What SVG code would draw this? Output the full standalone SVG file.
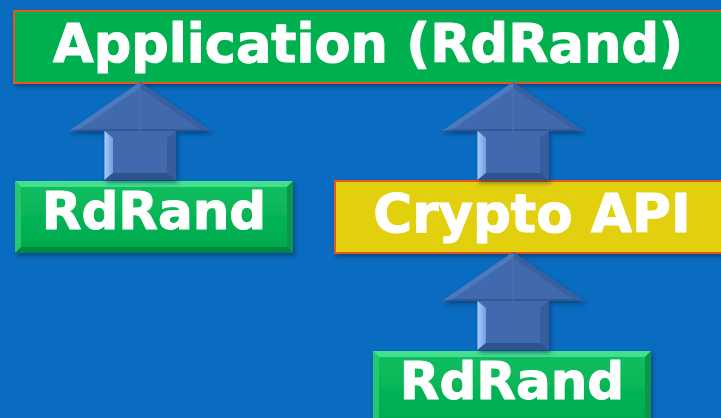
<svg xmlns="http://www.w3.org/2000/svg" xmlns:xlink="http://www.w3.org/1999/xlink" width="721" height="418" viewBox="0 0 721 418">
  <style>
    .label { font-family: "DejaVu Sans", Verdana, sans-serif; font-weight: bold; fill: #ffffff; stroke: #ffffff; stroke-width: 1.1; stroke-linejoin: round; text-anchor: middle; }
    .flat { stroke: #e8561c; stroke-width: 2; }
    .green { fill: #00b050; }
    .yellow { fill: #e2cf0e; }
  </style>
  <defs>
    <filter id="shadow" x="-10%" y="-10%" width="130%" height="140%">
      <feDropShadow dx="2" dy="3" stdDeviation="2" flood-color="#00204a" flood-opacity="0.45"/>
    </filter>
    <linearGradient id="bevelFace" x1="0" y1="0" x2="0" y2="1">
      <stop offset="0" stop-color="#0cc060"/>
      <stop offset="1" stop-color="#00a84c"/>
    </linearGradient>
    <linearGradient id="shaftLight" x1="0" y1="0" x2="1" y2="0">
      <stop offset="0" stop-color="#a6cdfb"/>
      <stop offset="1" stop-color="#6e9ee0"/>
    </linearGradient>
    <!-- block arrow pointing up; tip at origin -->
    <g id="upArrow">
      <polygon points="0,0 71,49 35.5,49 35.5,98 -35.5,98 -35.5,49 -71,49" fill="#4169ae"/>
      <!-- head facets -->
      <polygon points="0,0 -71,49 -60,47 0,6" fill="#4d79bf"/>
      <polygon points="0,0 71,49 60,47 0,6" fill="#37609f"/>
      <polygon points="-71,49 71,49 60,47 -60,47" fill="#2f548f" opacity="0.8"/>
      <line x1="0" y1="1" x2="0" y2="49" stroke="#4a74b8" stroke-width="1"/>
      <!-- shaft bevels -->
      <polygon points="-35.5,49 -27,56 -27,91 -35.5,98" fill="url(#shaftLight)"/>
      <polygon points="35.5,49 27,56 27,91 35.5,98" fill="#385c9c"/>
      <polygon points="-35.5,98 -27,91 27,91 35.5,98" fill="#2f528d"/>
    </g>
  </defs>

  <!-- backdrop -->
  <rect x="0" y="0" width="721" height="418" fill="#0a6cc0"/>

  <!-- application layer -->
  <g id="application" filter="url(#shadow)">
    <rect class="green flat" x="14" y="11" width="716" height="72"/>
    <text class="label" x="368" y="62" font-size="52.5">Application (RdRand)</text>
  </g>

  <!-- direct RdRand -->
  <g id="rdrand-left" filter="url(#shadow)">
    <rect x="15" y="181" width="278" height="72" fill="url(#bevelFace)"/>
    <polygon points="15,181 293,181 287,187 21,187" fill="#45e08f"/>
    <polygon points="15,181 21,187 21,247 15,253" fill="#26c86c"/>
    <polygon points="293,181 287,187 287,247 293,253" fill="#07954a"/>
    <polygon points="15,253 21,247 287,247 293,253" fill="#068640"/>
    <text class="label" x="154" y="229" font-size="51.5">RdRand</text>
  </g>

  <!-- Crypto API layer -->
  <g id="crypto-api" filter="url(#shadow)">
    <rect class="yellow flat" x="335" y="181" width="400" height="72"/>
    <text class="label" x="532" y="232" font-size="53">Crypto API</text>
  </g>

  <!-- RdRand under the Crypto API -->
  <g id="rdrand-bottom" filter="url(#shadow)">
    <rect x="373" y="351" width="278" height="80" fill="url(#bevelFace)"/>
    <polygon points="373,351 651,351 645,357 379,357" fill="#45e08f"/>
    <polygon points="373,351 379,357 379,431 373,431" fill="#26c86c"/>
    <polygon points="651,351 645,357 645,431 651,431" fill="#07954a"/>
    <text class="label" x="512" y="399" font-size="51.5">RdRand</text>
  </g>

  <!-- connectors -->
  <g id="connectors" filter="url(#shadow)">
    <use xlink:href="#upArrow" transform="translate(140,82)"/>
    <use xlink:href="#upArrow" transform="translate(513,82)"/>
    <use xlink:href="#upArrow" transform="translate(513,252)"/>
  </g>
</svg>
